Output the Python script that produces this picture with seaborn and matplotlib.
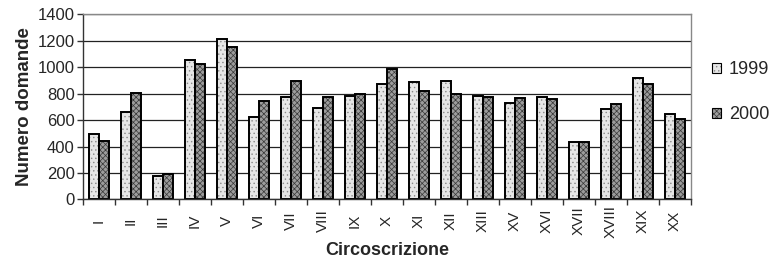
import numpy as np
import pandas as pd
import matplotlib
matplotlib.use("Agg")
import matplotlib.pyplot as plt
import seaborn as sns
from matplotlib.ticker import FixedLocator

# ---------------------------------------------------------------------------
# Data
# ---------------------------------------------------------------------------
circoscrizioni = ["I", "II", "III", "IV", "V", "VI", "VII", "VIII", "IX", "X",
                  "XI", "XII", "XIII", "XV", "XVI", "XVII", "XVIII", "XIX", "XX"]
domande_1999 = [498, 657, 179, 1055, 1214, 622, 770, 687, 778, 871,
                886, 891, 781, 730, 773, 433, 680, 919, 645]
domande_2000 = [443, 806, 191, 1020, 1151, 745, 894, 770, 793, 987,
                821, 793, 776, 765, 758, 433, 718, 869, 609]
anni = ["1999", "2000"]

df = pd.DataFrame({
    "Circoscrizione": circoscrizioni * 2,
    "Anno": [anni[0]] * len(circoscrizioni) + [anni[1]] * len(circoscrizioni),
    "Numero domande": domande_1999 + domande_2000,
})

sns.set_style("white")
plt.rcParams["font.family"] = ["Liberation Sans", "DejaVu Sans"]
plt.rcParams["hatch.linewidth"] = 0.5

fig = plt.figure(figsize=(7.71, 2.60), dpi=100)
ax = fig.add_axes([0.1077, 0.2327, 0.7886, 0.7133])

colors = {"1999": "#e6e6e6", "2000": "#9c9c9c"}
hatches = {"1999": "....", "2000": "xxxxxx"}
hatch_colors = {"1999": "#8a8a8a", "2000": "#383838"}

sns.barplot(data=df, x="Circoscrizione", y="Numero domande", hue="Anno",
            order=circoscrizioni, hue_order=anni, palette=colors,
            width=0.6, gap=0, edgecolor="black", linewidth=1.4,
            saturation=1, ax=ax, legend=False)

# texture similar to the original pattern fills
for cont, anno in zip(ax.containers, anni):
    for bar in cont:
        bar.set_hatch(hatches[anno])
        bar._hatch_color = matplotlib.colors.to_rgba(hatch_colors[anno])

ax.set_ylim(0, 1400)
ax.set_xlim(-0.5, len(circoscrizioni) - 0.5)
ax.set_yticks(np.arange(0, 1401, 200))
ax.yaxis.grid(True, color="#222222", linewidth=0.9)
ax.set_axisbelow(True)

# tick marks between categories, labels centred below like the original
ax.xaxis.set_minor_locator(FixedLocator(np.arange(-0.5, len(circoscrizioni), 1)))
ax.tick_params(axis="x", which="major", length=0, labelsize=11, pad=15.5)
ax.tick_params(axis="x", which="minor", length=4, width=1, color="#333333", bottom=True)
ax.tick_params(axis="y", length=4, width=1, color="#333333", left=True, labelsize=12, pad=2)
for lab in ax.get_xticklabels():
    lab.set_rotation(90)
    lab.set_va("center")
    lab.set_ha("center")

for side in ["top", "right"]:
    ax.spines[side].set_color("#888888")
    ax.spines[side].set_linewidth(1)
for side in ["left", "bottom"]:
    ax.spines[side].set_color("#333333")
    ax.spines[side].set_linewidth(1)

ax.set_xlabel("Circoscrizione", fontsize=13, fontweight="bold", labelpad=3)
ax.set_ylabel("Numero domande", fontsize=13.5, fontweight="bold", labelpad=3)

# legend on the right
handles = []
for anno in anni:
    h = plt.Rectangle((0, 0), 1, 1, facecolor=colors[anno], edgecolor="black",
                      hatch=hatches[anno], linewidth=0.8)
    h._hatch_color = matplotlib.colors.to_rgba(hatch_colors[anno])
    handles.append(h)
fig.legend(handles, anni, loc="upper left", bbox_to_anchor=(0.924, 0.765),
           frameon=False, fontsize=13, handlelength=0.45, handleheight=0.45,
           handletextpad=0.45, labelspacing=1.55, borderaxespad=0, borderpad=0)

fig.savefig("out.png", dpi=100)
